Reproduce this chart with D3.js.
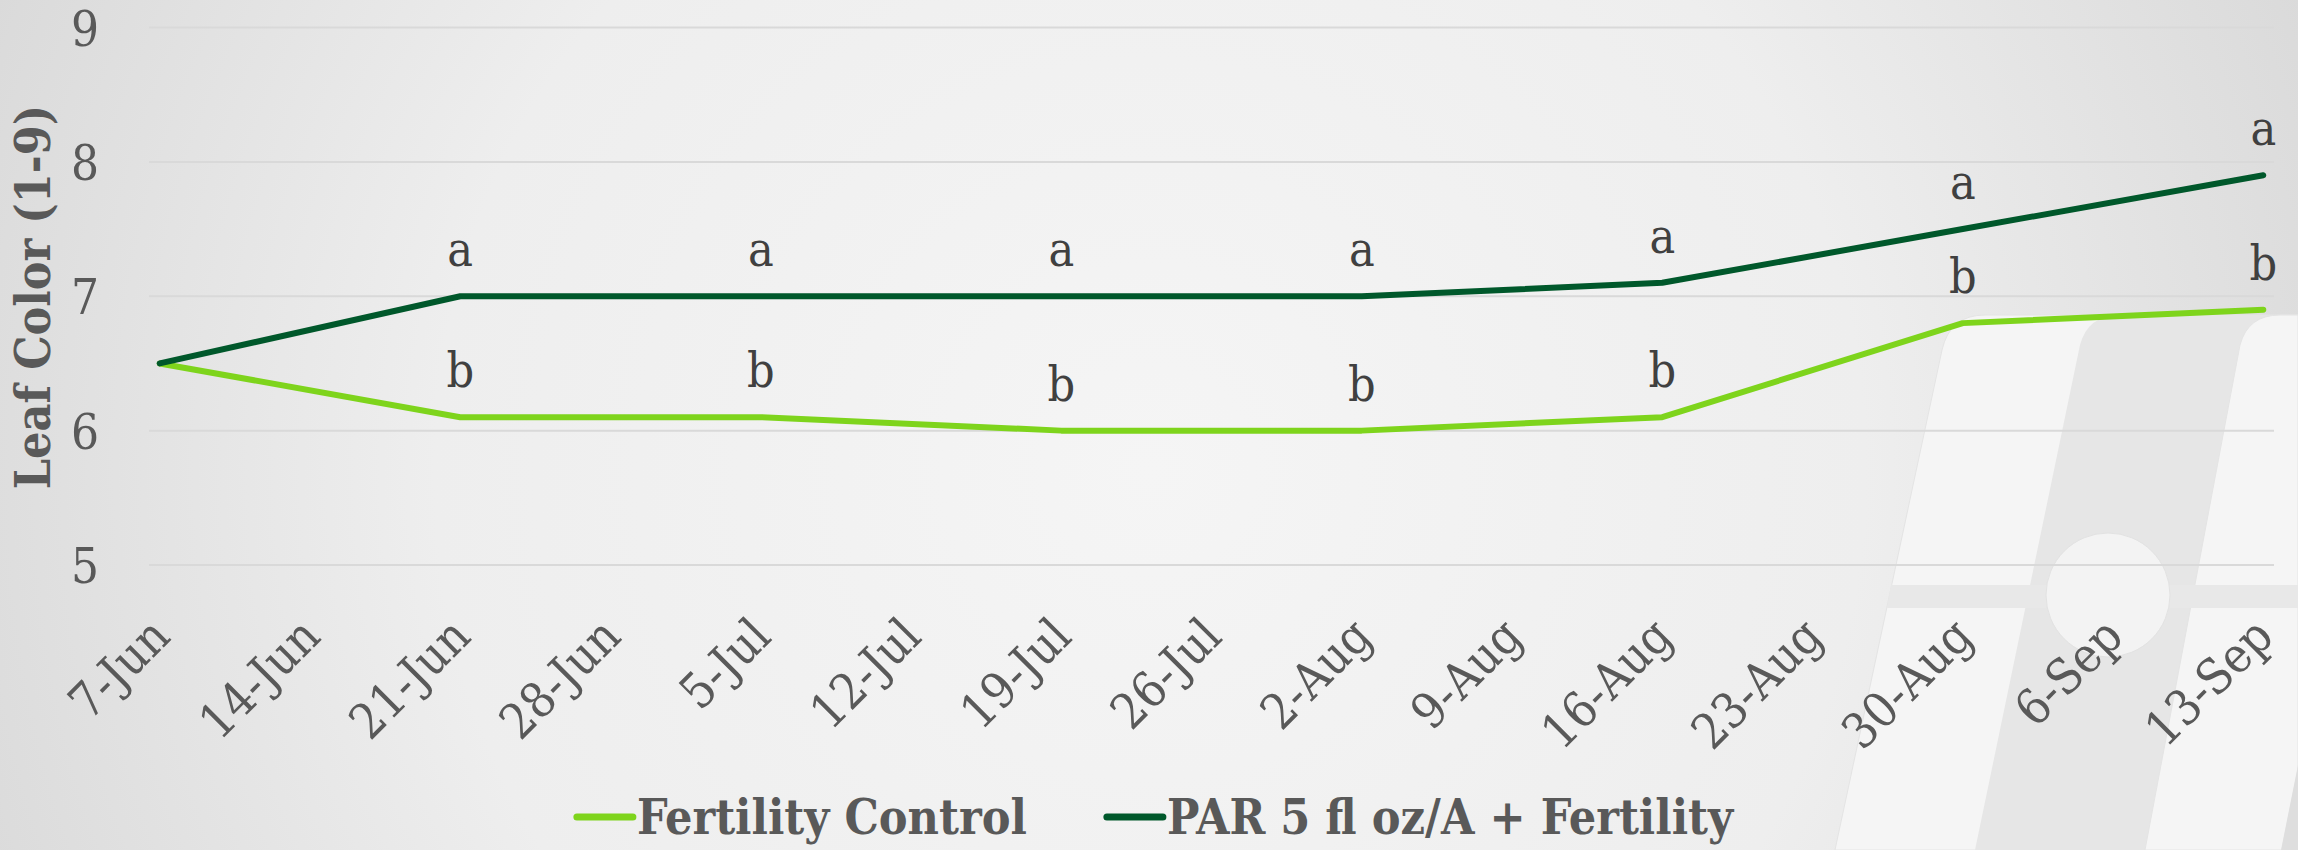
<!DOCTYPE html>
<html>
<head>
<meta charset="utf-8">
<script src="https://cdn.jsdelivr.net/npm/d3@7"></script>
<style>
  body { margin: 0; padding: 0; overflow: hidden; }
  svg { display: block; }
</style>
</head>
<body>
<script>
const sampleDates = ["2019-06-07", "2019-06-21", "2019-07-05", "2019-07-19", "2019-08-02", "2019-08-16", "2019-08-30", "2019-09-13"];
const controlValues = [6.5, 6.1, 6.1, 6.0, 6.0, 6.1, 6.8, 6.9];
const parValues = [6.5, 7.0, 7.0, 7.0, 7.0, 7.1, 7.5, 7.9];
const controlLetters = ["", "b", "b", "b", "b", "b", "b", "b"];
const parLetters = ["", "a", "a", "a", "a", "a", "a", "a"];
const tickDates = ["2019-06-07", "2019-06-14", "2019-06-21", "2019-06-28", "2019-07-05", "2019-07-12", "2019-07-19", "2019-07-26",
  "2019-08-02", "2019-08-09", "2019-08-16", "2019-08-23", "2019-08-30", "2019-09-06", "2019-09-13"];
const yTicks = [5, 6, 7, 8, 9];
const seriesNames = ["Fertility Control", "PAR 5 fl oz/A + Fertility"];
const seriesColors = ["#7ed41c", "#00582b"];

const width = 2298
const height = 850
const margin = {top: 27.5, right: 24, bottom: 285, left: 149}
const serif = "'DejaVu Serif Condensed', 'DejaVu Serif', serif"

const parse = d3.utcParse("%Y-%m-%d")
const dates = sampleDates.map(parse)
const ticks = tickDates.map(parse)

const x = d3.scaleUtc()
  .domain([d3.utcHour.offset(ticks[0], -12), d3.utcHour.offset(ticks[ticks.length - 1], 12)])
  .range([margin.left, width - margin.right]);

const y = d3.scaleLinear()
  .domain([5, 9])
  .range([height - margin.bottom, margin.top]);

const series = [
  {name: seriesNames[0], color: seriesColors[0], values: controlValues, letters: controlLetters},
  {name: seriesNames[1], color: seriesColors[1], values: parValues, letters: parLetters}
];

const svg = d3.select("body").append("svg")
  .attr("width", width)
  .attr("height", height)
  .style("font-family", serif)
  .style("font-stretch", "condensed");

const defs = svg.append("defs")
const grad = defs.append("radialGradient")
  .attr("id", "bg")
  .attr("gradientUnits", "userSpaceOnUse")
  .attr("cx", 1150).attr("cy", 470).attr("r", 1300);
grad.append("stop").attr("offset", "0%").attr("stop-color", "#f5f5f5");
grad.append("stop").attr("offset", "55%").attr("stop-color", "#eeeeee");
grad.append("stop").attr("offset", "100%").attr("stop-color", "#d8d8d8");

svg.append("rect")
  .attr("width", width)
  .attr("height", height)
  .attr("fill", "url(#bg)");

// faint logo watermark, bottom right
const mark = svg.append("g")
mark.append("path").attr("d", "M1942,350 Q1950,315 1985,315 L2298,315 L2298,850 L1835,850 Z").attr("fill", "#f5f5f5").attr("stroke", "#e4e4e4");
mark.append("path").attr("d", "M2080,345 Q2088,315 2120,315 L2298,315 L2298,850 L1975,850 Z").attr("fill", "#e6e6e6");
mark.append("path").attr("d", "M2240,345 Q2248,315 2280,315 L2298,315 L2298,850 L2145,850 Z").attr("fill", "#f5f5f5").attr("stroke", "#e4e4e4");
mark.append("path").attr("d", "M2298,765 L2281,850 L2298,850 Z").attr("fill", "#dedede");
mark.append("path").attr("d", "M1891,585 L2298,585 L2298,608 L1887,608 Z").attr("fill", "#e8e8e8");
mark.append("circle").attr("cx", 2108).attr("cy", 595).attr("r", 62).attr("fill", "#f3f3f3").attr("stroke", "#e2e2e2");

svg.append("g")
  .selectAll("line")
  .data(yTicks)
  .join("line")
  .attr("x1", margin.left)
  .attr("x2", width - margin.right)
  .attr("y1", d => y(d))
  .attr("y2", d => y(d))
  .attr("stroke", "#d9d9d9")
  .attr("stroke-width", 2);

const yAxis = svg.append("g")
  .attr("transform", `translate(${margin.left},0)`)
  .call(d3.axisLeft(y).tickValues(yTicks).tickSize(0).tickPadding(50).tickFormat(d3.format("d")));
yAxis.select(".domain").remove();
yAxis.selectAll("text")
  .attr("dy", "0.36em")
  .style("font-family", serif)
  .style("font-size", "49px")
  .attr("fill", "#595959");

const xAxis = svg.append("g")
  .attr("transform", `translate(0,${y(5)})`)
  .call(d3.axisBottom(x).tickValues(ticks).tickSize(0).tickFormat(d3.utcFormat("%-d-%b")));
xAxis.select(".domain").remove();
xAxis.selectAll("text")
  .attr("x", 0)
  .attr("y", 0)
  .attr("dy", null)
  .attr("text-anchor", "end")
  .attr("transform", "translate(12,74) rotate(-45)")
  .style("font-family", serif)
  .style("font-size", "49px")
  .attr("fill", "#595959");

svg.append("text")
  .attr("transform", `translate(50,297) rotate(-90)`)
  .attr("text-anchor", "middle")
  .style("font-size", "48px")
  .style("font-weight", "bold")
  .attr("fill", "#595959")
  .text("Leaf Color (1-9)");

const line = d3.line()
  .x((d, i) => x(dates[i]))
  .y(d => y(d));

svg.append("g")
  .selectAll("path")
  .data(series)
  .join("path")
  .attr("d", d => line(d.values))
  .attr("fill", "none")
  .attr("stroke", d => d.color)
  .attr("stroke-width", 6)
  .attr("stroke-linecap", "round")
  .attr("stroke-linejoin", "round");

svg.append("g")
  .selectAll("g")
  .data(series)
  .join("g")
  .selectAll("text")
  .data(d => d.values.map((v, i) => ({v, i, letter: d.letters[i]})))
  .join("text")
  .attr("x", d => x(dates[d.i]))
  .attr("y", d => y(d.v) - 30)
  .attr("text-anchor", "middle")
  .style("font-size", "48px")
  .attr("fill", "#404040")
  .text(d => d.letter);

const legend = svg.append("g")
const items = legend.selectAll("g")
  .data(series)
  .join("g");
items.append("line")
  .attr("x1", 0).attr("x2", 56)
  .attr("stroke", d => d.color)
  .attr("stroke-width", 7)
  .attr("stroke-linecap", "round");
items.append("text")
  .attr("x", 60)
  .attr("dy", "0.36em")
  .style("font-size", "48px")
  .style("font-weight", "bold")
  .attr("fill", "#595959")
  .text(d => d.name);

const widths = items.nodes().map(n => 60 + d3.select(n).select("text").node().getComputedTextLength())
const gap = 80
const total = d3.sum(widths) + gap * (widths.length - 1)
let cursor = 1155 - total / 2
items.attr("transform", (d, i) => {
  const t = `translate(${cursor},817)`
  cursor += widths[i] + gap
  return t
});
</script>
</body>
</html>
